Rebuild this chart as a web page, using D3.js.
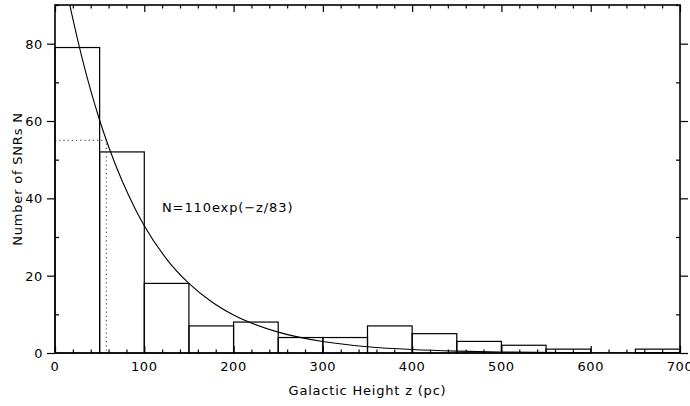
<!DOCTYPE html>
<html>
<head>
<meta charset="utf-8">
<script src="https://cdn.jsdelivr.net/npm/d3@7"></script>
<style>
  body { margin: 0; background: #fff; }
  text { font-family: "DejaVu Sans", sans-serif; fill: #000; }
</style>
</head>
<body>
<div id="chart"></div>
<script>
// histogram bins (pc) and counts
const binStart = [0, 50, 100, 150, 200, 250, 300, 350, 400, 450, 500, 550, 600, 650];
const binWidth = 50;
const counts = [79, 52, 18, 7, 8, 4, 4, 7, 5, 3, 2, 1, 0, 1];

// fitted curve, points
const curveZ = [0, 10, 20, 30, 40, 50, 60, 75, 90, 100, 125, 150, 175, 200, 250, 300, 350, 400, 450, 500, 600, 700];
const curveN = [110, 97.5, 86.4, 76.6, 67.9, 60.2, 53.4, 44.6, 37.2, 32.9, 24.3, 18.0, 13.3, 9.8, 5.4, 2.96, 1.62, 0.89, 0.49, 0.27, 0.08, 0.024];

const halfN = 55;      // dotted marker level
const halfZ = 57.5;    // dotted marker position
const fitLabel = "N=110exp(\u2212z/83)";

const width = 690, height = 406;
const margin = {left: 55, right: 10, top: 5, bottom: 53};

const svg = d3.select("#chart")
    .append("svg")
    .attr("width", width)
    .attr("height", height);

const x = d3.scaleLinear().domain([0, 700]).range([margin.left, width - margin.right]);
const y = d3.scaleLinear().domain([0, 90]).range([height - margin.bottom, margin.top]);

svg.append("clipPath").attr("id", "plotclip")
    .append("rect")
    .attr("x", x(0)).attr("y", y(90))
    .attr("width", x(700) - x(0)).attr("height", y(0) - y(90));

// bars
svg.append("g").selectAll("rect")
    .data(binStart)
    .join("rect")
    .attr("x", (d) => x(d))
    .attr("y", (d, i) => y(counts[i]))
    .attr("width", x(binWidth) - x(0))
    .attr("height", (d, i) => y(0) - y(counts[i]))
    .attr("fill", "none")
    .attr("stroke", "#000")
    .attr("stroke-width", 1.2);

// dotted half-level marker
svg.append("path")
    .attr("d", `M${x(0)},${y(halfN)}H${x(halfZ)}V${y(0)}`)
    .attr("fill", "none")
    .attr("stroke", "#555")
    .attr("stroke-width", 1.2)
    .attr("stroke-dasharray", "1.2,3");

// fit curve
const line = d3.line()
    .x((d, i) => x(curveZ[i]))
    .y((d, i) => y(curveN[i]))
    .curve(d3.curveMonotoneX);

svg.append("path")
    .datum(curveZ)
    .attr("clip-path", "url(#plotclip)")
    .attr("d", line)
    .attr("fill", "none")
    .attr("stroke", "#000")
    .attr("stroke-width", 1.1);

// axes: ticks inward on all four sides
const plotH = y(0) - y(90);
const plotW = x(700) - x(0);

function xTicks(g, dir) {
    g.call(d3.axisBottom(x).tickValues(d3.range(0, 701, 20)).tickFormat("").tickSize(dir * 3.5))
        .call((a) => a.select(".domain").remove());
    g.selectAll(".tick line").filter((d) => d % 100 === 0).attr("y2", dir * 7);
}
function yTicks(g, dir) {
    g.call(d3.axisLeft(y).tickValues(d3.range(0, 91, 10)).tickFormat("").tickSize(dir * 4))
        .call((a) => a.select(".domain").remove());
    g.selectAll(".tick line").filter((d) => d % 20 === 0).attr("x2", dir * 8);
}

svg.append("g").attr("transform", `translate(0,${y(0)})`).call(xTicks, -1);
svg.append("g").attr("transform", `translate(0,${y(90)})`).call(xTicks, 1);
svg.append("g").attr("transform", `translate(${x(0)},0)`).call(yTicks, -1);
svg.append("g").attr("transform", `translate(${x(700)},0)`).call(yTicks, 1);

svg.selectAll(".tick line").attr("stroke", "#000").attr("stroke-width", 1.2);

svg.append("rect")
    .attr("x", x(0)).attr("y", y(90))
    .attr("width", plotW).attr("height", plotH)
    .attr("fill", "none").attr("stroke", "#000").attr("stroke-width", 1.6);

// tick labels
svg.append("g").selectAll("text")
    .data(d3.range(0, 701, 100))
    .join("text")
    .attr("x", (d) => x(d))
    .attr("y", y(0) + 18)
    .attr("text-anchor", "middle")
    .attr("font-size", 13)
    .attr("letter-spacing", 0.6)
    .text((d) => d);

svg.append("g").selectAll("text")
    .data(d3.range(0, 81, 20))
    .join("text")
    .attr("x", x(0) - 12)
    .attr("y", (d) => y(d) + 5)
    .attr("text-anchor", "end")
    .attr("font-size", 13)
    .attr("letter-spacing", 0.6)
    .text((d) => d);

// axis titles
svg.append("text")
    .attr("x", (x(0) + x(700)) / 2)
    .attr("y", 395)
    .attr("text-anchor", "middle")
    .attr("font-size", 13)
    .attr("letter-spacing", 0.8)
    .text("Galactic Height z (pc)");

svg.append("text")
    .attr("transform", `translate(22,${(y(0) + y(90)) / 2}) rotate(-90)`)
    .attr("text-anchor", "middle")
    .attr("font-size", 13)
    .attr("letter-spacing", 0.8)
    .text("Number of SNRs N");

svg.append("text")
    .attr("x", 162)
    .attr("y", 212)
    .attr("font-size", 13)
    .attr("letter-spacing", 0.9)
    .text(fitLabel);
</script>
</body>
</html>
